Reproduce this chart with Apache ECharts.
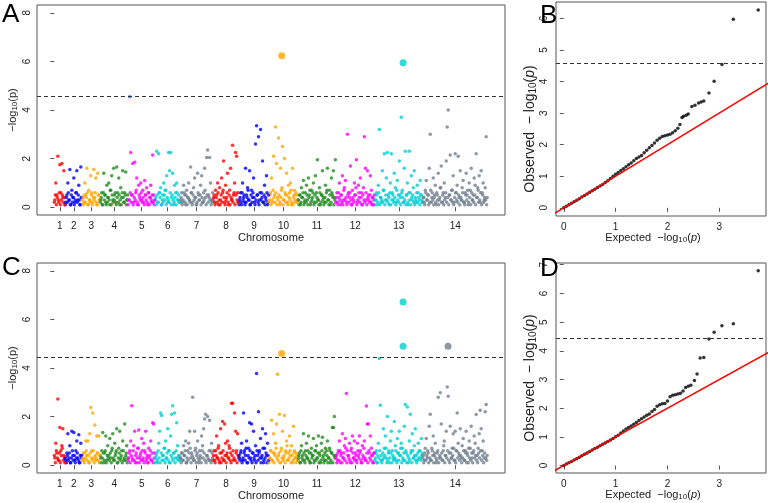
<!DOCTYPE html>
<html>
<head>
<meta charset="utf-8">
<script src="https://cdn.jsdelivr.net/npm/echarts@6/dist/echarts.min.js"></script>
<style>
html, body { margin: 0; padding: 0; background: #fff; }
#main { width: 768px; height: 503px; }
</style>
</head>
<body>
<div id="main"></div>
<script>
// chromosomes (relative lengths) and colours
const chromNames = ['1', '2', '3', '4', '5', '6', '7', '8', '9', '10', '11', '12', '13', '14'];
const chromLen = [11, 17, 18, 28, 27, 25, 33, 26, 30, 29, 38, 39, 48, 65];
const chromColors = ['#FF0000', '#0000FF', '#FFA500', '#228B22', '#FF00FF', '#00CED1', '#708090'];

// panel A: -log10(p) per chromosome, in position order
const manhA = [
  [0.3, 1.0, 0.5, 2.1, 0.2, 1.75, 0.6, 1.8, 0.4, 1.5, 0.1],
  [0.2, 0.5, 1.0, 0.3, 1.55, 0.1, 0.7, 0.4, 1.2, 0.2, 0.6, 1.5, 0.3, 0.9, 0.1, 1.65, 0.4],
  [0.4, 0.2, 1.0, 0.5, 1.6, 0.1, 0.7, 0.3, 1.3, 0.6, 0.2, 1.55, 0.4, 1.2, 0.1, 1.4, 0.5, 0.3],
  [0.3, 0.6, 0.1, 1.4, 0.5, 0.2, 0.9, 0.4, 1.0, 0.1, 0.7, 1.3, 0.3, 1.6, 0.5, 0.2, 1.65, 0.6, 1.2, 0.1, 0.8, 0.4, 1.5, 0.2, 0.6, 1.45, 0.3, 0.5],
  [0.3, 4.55, 2.25, 0.5, 1.8, 0.2, 1.85, 0.6, 1.2, 0.1, 0.9, 0.4, 1.0, 0.3, 0.7, 0.2, 1.1, 0.5, 0.8, 0.1, 0.6, 0.4, 0.9, 0.2, 2.15, 0.5, 0.3],
  [0.4, 2.3, 0.2, 2.2, 0.6, 0.8, 0.1, 0.5, 1.0, 0.3, 0.7, 1.3, 0.2, 2.25, 1.5, 2.25, 0.4, 1.4, 0.1, 0.9, 0.6, 1.0, 0.3, 0.5, 0.2],
  [0.3, 0.6, 0.2, 0.9, 0.5, 0.1, 0.7, 0.4, 1.0, 0.3, 1.65, 0.6, 0.2, 0.8, 1.2, 0.4, 0.1, 1.4, 0.5, 0.3, 0.9, 1.3, 0.2, 0.6, 1.6, 0.4, 2.05, 2.35, 0.5, 2.05, 1.0, 0.3, 0.6],
  [0.4, 0.2, 0.7, 0.5, 1.0, 0.1, 0.8, 0.3, 1.2, 0.6, 1.9, 0.2, 0.9, 0.4, 1.4, 0.1, 0.7, 1.6, 0.3, 2.55, 0.5, 1.0, 2.25, 2.1, 0.6, 0.2],
  [0.3, 0.6, 0.1, 1.0, 0.4, 0.2, 1.6, 0.5, 0.8, 0.3, 1.5, 0.1, 0.7, 0.4, 1.2, 0.2, 2.6, 3.35, 0.5, 2.9, 0.3, 3.2, 0.6, 1.9, 0.2, 0.9, 0.4, 1.3, 0.1, 0.5],
  [0.3, 0.6, 1.2, 0.2, 2.1, 0.5, 3.3, 1.8, 0.4, 2.85, 0.1, 1.6, 0.7, 2.5, 0.3, 2.0, 0.5, 1.4, 0.2, 0.9, 0.6, 1.0, 0.1, 1.6, 0.4, 0.7, 0.2, 0.5, 0.3],
  [0.3, 0.5, 0.1, 0.8, 0.4, 1.1, 0.2, 0.6, 0.9, 0.3, 1.2, 0.5, 0.1, 0.7, 0.4, 1.0, 0.2, 1.3, 0.6, 1.95, 0.3, 0.8, 0.1, 0.5, 1.5, 0.4, 0.2, 0.9, 0.6, 1.6, 0.3, 0.7, 0.1, 1.2, 0.5, 1.5, 0.4, 1.95],
  [0.4, 0.2, 0.6, 1.0, 0.1, 0.5, 1.3, 0.3, 0.8, 1.1, 0.2, 3.0, 0.6, 0.4, 1.7, 0.1, 0.7, 0.3, 1.0, 0.5, 1.95, 0.2, 0.9, 0.4, 1.2, 0.6, 0.1, 0.8, 2.9, 1.6, 0.3, 1.5, 0.5, 0.2, 1.3, 0.7, 0.4, 0.1, 0.5],
  [0.3, 0.6, 0.1, 0.9, 3.2, 0.4, 0.2, 1.5, 0.7, 2.2, 0.3, 1.2, 2.25, 0.5, 0.1, 1.0, 2.2, 0.6, 0.3, 1.4, 0.8, 0.2, 1.1, 0.5, 1.9, 0.4, 3.7, 0.7, 0.2, 1.6, 2.3, 0.5, 1.0, 0.1, 2.3, 0.6, 1.3, 0.3, 0.8, 1.5, 0.4, 0.2, 0.9, 0.6, 0.3, 1.1, 0.5, 0.2],
  [0.4, 0.2, 0.7, 1.1, 0.3, 0.5, 1.6, 3.0, 0.2, 0.6, 1.2, 0.4, 0.9, 0.1, 0.5, 1.4, 0.3, 0.8, 1.7, 0.2, 0.6, 1.0, 0.4, 1.9, 3.3, 4.0, 0.5, 2.15, 0.3, 0.7, 1.3, 0.2, 2.2, 0.6, 0.9, 2.1, 0.4, 1.5, 0.3, 0.8, 1.1, 0.2, 0.6, 1.4, 0.5, 0.1, 1.0, 0.7, 1.6, 0.3, 0.5, 1.2, 0.9, 2.2, 0.4, 0.7, 1.3, 0.2, 1.5, 0.6, 1.0, 0.3, 0.8, 2.9, 0.4]
];
// panel A: the dense band of non-significant SNPs
const lowA = [
  [0.2, 0.5, 0.1, 0.4, 0.3, 0.6, 0.1, 0.3, 0.5, 0.2, 0.4],
  [0.1, 0.4, 0.2, 0.6, 0.3, 0.1, 0.5, 0.2, 0.4, 0.1, 0.3, 0.6, 0.2, 0.5, 0.3, 0.1, 0.4],
  [0.3, 0.1, 0.5, 0.2, 0.4, 0.6, 0.1, 0.3, 0.2, 0.5, 0.1, 0.4, 0.3, 0.6, 0.2, 0.1, 0.5, 0.3],
  [0.2, 0.4, 0.1, 0.6, 0.3, 0.5, 0.1, 0.2, 0.4, 0.3, 0.7, 0.1, 0.5, 0.2, 0.3, 0.6, 0.1, 0.4, 0.2, 0.5, 0.3, 0.1, 0.6, 0.4, 0.2, 0.5, 0.1, 0.3],
  [0.1, 0.3, 0.6, 0.2, 0.5, 0.1, 0.4, 0.3, 0.7, 0.2, 0.1, 0.5, 0.3, 0.6, 0.2, 0.4, 0.1, 0.5, 0.3, 0.2, 0.6, 0.1, 0.4, 0.3, 0.5, 0.2, 0.1],
  [0.3, 0.1, 0.5, 0.2, 0.6, 0.4, 0.1, 0.3, 0.2, 0.5, 0.7, 0.1, 0.4, 0.3, 0.2, 0.6, 0.1, 0.5, 0.3, 0.2, 0.4, 0.1, 0.6, 0.3, 0.2],
  [0.2, 0.4, 0.1, 0.3, 0.6, 0.2, 0.5, 0.1, 0.4, 0.3, 0.2, 0.6, 0.1, 0.5, 0.3, 0.4, 0.1, 0.2, 0.6, 0.3, 0.5, 0.1, 0.4, 0.2, 0.3, 0.7, 0.1, 0.5, 0.2, 0.4, 0.3, 0.1, 0.2],
  [0.3, 0.5, 0.1, 0.4, 0.2, 0.6, 0.3, 0.1, 0.5, 0.2, 0.7, 0.4, 0.1, 0.3, 0.6, 0.2, 0.5, 0.1, 0.4, 0.3, 0.2, 0.6, 0.1, 0.5, 0.3, 0.2],
  [0.1, 0.4, 0.2, 0.6, 0.3, 0.5, 0.1, 0.2, 0.4, 0.7, 0.3, 0.1, 0.5, 0.2, 0.6, 0.4, 0.1, 0.3, 0.5, 0.2, 0.1, 0.6, 0.3, 0.4, 0.2, 0.5, 0.1, 0.3, 0.6, 0.2],
  [0.2, 0.5, 0.1, 0.3, 0.7, 0.4, 0.2, 0.6, 0.1, 0.3, 0.5, 0.2, 0.4, 0.8, 0.1, 0.3, 0.6, 0.2, 0.5, 0.1, 0.4, 0.3, 0.7, 0.2, 0.1, 0.5, 0.3, 0.6, 0.2],
  [0.3, 0.1, 0.5, 0.2, 0.4, 0.6, 0.1, 0.3, 0.2, 0.5, 0.1, 0.4, 0.7, 0.2, 0.3, 0.6, 0.1, 0.5, 0.2, 0.4, 0.3, 0.1, 0.6, 0.2, 0.5, 0.3, 0.1, 0.4, 0.2, 0.7, 0.3, 0.1, 0.5, 0.2, 0.6, 0.4, 0.1, 0.3],
  [0.2, 0.6, 0.1, 0.4, 0.3, 0.5, 0.2, 0.1, 0.7, 0.3, 0.4, 0.1, 0.5, 0.2, 0.6, 0.3, 0.1, 0.4, 0.2, 0.5, 0.8, 0.1, 0.3, 0.6, 0.2, 0.4, 0.1, 0.5, 0.3, 0.2, 0.6, 0.1, 0.4, 0.3, 0.5, 0.2, 0.1, 0.4, 0.3],
  [0.1, 0.3, 0.5, 0.2, 0.6, 0.1, 0.4, 0.3, 0.2, 0.7, 0.1, 0.5, 0.3, 0.2, 0.4, 0.6, 0.1, 0.3, 0.5, 0.2, 0.4, 0.1, 0.7, 0.3, 0.2, 0.5, 0.1, 0.6, 0.4, 0.2, 0.3, 0.1, 0.5, 0.2, 0.6, 0.3, 0.1, 0.4, 0.5, 0.2, 0.1, 0.3, 0.6, 0.2, 0.4, 0.1, 0.5, 0.3],
  [0.2, 0.4, 0.1, 0.6, 0.3, 0.5, 0.1, 0.2, 0.7, 0.4, 0.3, 0.1, 0.5, 0.2, 0.6, 0.3, 0.1, 0.4, 0.8, 0.2, 0.5, 0.1, 0.3, 0.6, 0.2, 0.4, 0.1, 0.5, 0.3, 0.7, 0.2, 0.1, 0.4, 0.6, 0.3, 0.2, 0.5, 0.1, 0.4, 0.3, 0.6, 0.2, 0.1, 0.5, 0.3, 0.7, 0.2, 0.4, 0.1, 0.6, 0.3, 0.2, 0.5, 0.1, 0.4, 0.8, 0.2, 0.3, 0.6, 0.1, 0.5, 0.2, 0.4, 0.3, 0.1]
];
// panel A significant SNPs: [chromosome, offset in chromosome, -log10(p)]
const sigA = [[10, 12.7, 6.23], [13, 28.3, 5.94]];
const thrA = 4.56;

// panel C
const manhC = [
  [0.3, 0.9, 0.5, 2.72, 0.2, 1.55, 0.6, 0.8, 1.5, 0.4, 0.1],
  [0.2, 0.5, 1.3, 0.3, 0.8, 0.1, 1.4, 0.4, 1.35, 0.2, 0.6, 1.0, 0.3, 1.25, 0.1, 0.9, 0.4],
  [0.3, 0.2, 0.5, 1.0, 0.4, 1.0, 0.1, 1.3, 2.37, 0.6, 2.15, 0.3, 1.65, 0.2, 1.2, 0.5, 1.2, 0.4],
  [0.3, 0.6, 1.35, 0.1, 0.5, 1.2, 0.2, 0.8, 0.4, 1.1, 0.3, 0.6, 1.3, 0.2, 0.9, 0.5, 1.5, 0.1, 0.7, 1.4, 0.3, 0.6, 1.0, 0.2, 1.7, 0.4, 0.8, 0.3],
  [0.3, 0.6, 1.0, 2.45, 0.2, 0.8, 1.4, 0.4, 0.1, 0.7, 1.45, 0.3, 0.5, 1.1, 0.2, 0.9, 0.6, 1.4, 0.3, 0.1, 0.7, 0.4, 1.0, 0.2, 1.75, 1.7, 0.5],
  [0.3, 0.5, 0.1, 0.9, 1.4, 2.15, 2.05, 0.4, 0.2, 0.7, 1.0, 0.3, 1.5, 0.6, 0.1, 1.2, 2.1, 2.45, 0.5, 2.15, 0.3, 1.75, 0.8, 0.4, 0.2],
  [0.3, 0.5, 0.2, 0.8, 0.4, 1.0, 0.1, 0.6, 0.9, 1.4, 0.3, 0.5, 2.8, 0.2, 1.4, 0.7, 0.4, 1.0, 0.1, 0.6, 0.3, 1.2, 0.8, 1.5, 1.9, 2.1, 0.4, 2.0, 0.2, 1.85, 0.6, 0.9, 0.3],
  [0.4, 0.2, 0.6, 1.2, 0.3, 0.8, 0.1, 1.5, 0.5, 1.8, 0.2, 1.7, 0.9, 0.4, 1.0, 0.3, 0.7, 0.5, 2.55, 2.55, 0.2, 2.15, 1.4, 0.6, 1.3, 0.3],
  [0.3, 0.5, 0.9, 0.2, 2.15, 0.6, 0.4, 1.0, 0.1, 0.7, 1.75, 0.3, 1.7, 0.5, 1.4, 0.2, 0.8, 3.77, 0.4, 2.2, 0.6, 1.1, 0.3, 1.5, 0.1, 0.7, 1.3, 0.4, 0.9, 0.2],
  [0.3, 0.6, 1.85, 0.2, 1.3, 0.5, 0.9, 1.7, 3.74, 0.4, 2.1, 0.1, 0.7, 1.4, 0.3, 2.05, 0.6, 1.0, 0.2, 0.5, 1.2, 0.4, 0.8, 0.1, 1.6, 0.6, 0.3, 0.5, 0.2],
  [0.3, 0.5, 0.1, 0.8, 0.4, 1.3, 0.2, 0.6, 0.9, 0.3, 1.2, 0.5, 0.1, 0.7, 0.4, 1.1, 0.2, 0.6, 0.8, 0.3, 1.2, 0.5, 0.1, 0.9, 1.15, 0.4, 0.2, 0.7, 0.6, 1.0, 0.3, 0.7, 0.1, 0.5, 1.55, 1.55, 2.0, 0.4],
  [0.4, 0.2, 0.6, 1.0, 0.1, 0.5, 1.3, 0.3, 0.8, 1.1, 2.95, 0.6, 0.4, 0.9, 0.1, 0.7, 1.2, 0.3, 1.0, 0.5, 0.2, 0.9, 0.4, 1.2, 0.6, 0.1, 0.8, 0.3, 1.0, 0.2, 2.44, 1.7, 1.7, 0.5, 1.2, 0.7, 0.4, 0.1, 0.5],
  [0.3, 0.6, 0.1, 0.9, 4.39, 2.47, 0.4, 0.2, 1.5, 0.7, 1.2, 0.3, 2.0, 0.5, 0.1, 1.0, 1.4, 0.6, 0.3, 1.8, 0.8, 0.2, 1.1, 0.5, 1.4, 0.4, 0.9, 0.7, 0.2, 1.6, 2.5, 0.5, 2.4, 0.1, 1.0, 2.1, 0.6, 1.3, 0.3, 0.8, 1.5, 0.4, 0.2, 0.9, 0.6, 0.3, 1.1, 0.5],
  [0.4, 0.2, 0.7, 1.1, 0.3, 0.5, 1.6, 2.1, 0.2, 0.6, 1.2, 0.4, 0.9, 0.1, 0.5, 2.8, 0.3, 2.98, 1.7, 0.2, 0.6, 1.0, 0.4, 1.4, 3.22, 2.84, 0.5, 1.6, 0.3, 0.7, 1.3, 0.2, 1.4, 0.6, 2.15, 0.9, 0.4, 1.5, 0.3, 0.8, 1.1, 0.2, 0.6, 1.4, 0.5, 0.1, 1.0, 0.7, 1.6, 0.3, 0.5, 1.2, 0.9, 2.09, 0.4, 0.7, 1.3, 2.26, 1.5, 0.6, 1.0, 0.3, 2.2, 2.5, 0.4]
];
const lowC = [
  [0.4, 0.1, 0.6, 0.3, 0.2, 0.5, 0.1, 0.4, 0.7, 0.2, 0.3],
  [0.3, 0.1, 0.4, 0.2, 0.5, 0.1, 0.3, 0.6, 0.2, 0.4, 0.1, 0.3, 0.5, 0.2, 0.1, 0.4, 0.3],
  [0.2, 0.5, 0.1, 0.3, 0.6, 0.2, 0.4, 0.1, 0.5, 0.3, 0.2, 0.6, 0.1, 0.4, 0.3, 0.5, 0.2, 0.1],
  [0.4, 0.1, 0.3, 0.5, 0.2, 0.6, 0.1, 0.4, 0.3, 0.2, 0.5, 0.1, 0.7, 0.3, 0.2, 0.4, 0.6, 0.1, 0.3, 0.5, 0.2, 0.4, 0.1, 0.6, 0.3, 0.2, 0.5, 0.1],
  [0.2, 0.5, 0.1, 0.4, 0.3, 0.6, 0.2, 0.1, 0.5, 0.3, 0.7, 0.1, 0.4, 0.2, 0.6, 0.3, 0.1, 0.5, 0.2, 0.4, 0.1, 0.3, 0.6, 0.2, 0.5, 0.1, 0.3],
  [0.1, 0.4, 0.2, 0.6, 0.3, 0.1, 0.5, 0.2, 0.4, 0.7, 0.1, 0.3, 0.5, 0.2, 0.6, 0.1, 0.4, 0.3, 0.2, 0.5, 0.1, 0.6, 0.3, 0.2, 0.4],
  [0.3, 0.1, 0.5, 0.2, 0.4, 0.6, 0.1, 0.3, 0.2, 0.5, 0.7, 0.1, 0.4, 0.3, 0.2, 0.6, 0.1, 0.5, 0.3, 0.2, 0.4, 0.1, 0.6, 0.3, 0.5, 0.2, 0.1, 0.4, 0.3, 0.6, 0.2, 0.1, 0.5],
  [0.2, 0.6, 0.1, 0.4, 0.3, 0.7, 0.2, 0.5, 0.1, 0.3, 0.6, 0.2, 0.4, 0.1, 0.5, 0.3, 0.8, 0.2, 0.1, 0.4, 0.6, 0.3, 0.2, 0.5, 0.1, 0.4],
  [0.4, 0.2, 0.6, 0.1, 0.3, 0.5, 0.2, 0.7, 0.1, 0.4, 0.3, 0.6, 0.2, 0.1, 0.5, 0.3, 0.4, 0.1, 0.6, 0.2, 0.5, 0.3, 0.1, 0.4, 0.7, 0.2, 0.3, 0.5, 0.1, 0.4],
  [0.1, 0.3, 0.6, 0.2, 0.5, 0.1, 0.4, 0.7, 0.3, 0.2, 0.5, 0.1, 0.6, 0.3, 0.2, 0.4, 0.1, 0.5, 0.8, 0.2, 0.3, 0.6, 0.1, 0.4, 0.2, 0.5, 0.3, 0.1, 0.4],
  [0.2, 0.4, 0.1, 0.6, 0.3, 0.2, 0.5, 0.1, 0.4, 0.3, 0.6, 0.2, 0.1, 0.5, 0.3, 0.4, 0.1, 0.6, 0.2, 0.3, 0.5, 0.1, 0.4, 0.2, 0.6, 0.3, 0.1, 0.5, 0.2, 0.4, 0.1, 0.3, 0.6, 0.2, 0.5, 0.1, 0.4, 0.3],
  [0.3, 0.1, 0.5, 0.2, 0.6, 0.4, 0.1, 0.3, 0.5, 0.2, 0.7, 0.1, 0.4, 0.3, 0.2, 0.6, 0.1, 0.5, 0.3, 0.2, 0.4, 0.1, 0.6, 0.3, 0.5, 0.2, 0.1, 0.4, 0.7, 0.3, 0.2, 0.5, 0.1, 0.6, 0.3, 0.2, 0.4, 0.1, 0.5],
  [0.2, 0.5, 0.1, 0.4, 0.3, 0.6, 0.2, 0.1, 0.5, 0.3, 0.4, 0.7, 0.1, 0.2, 0.6, 0.3, 0.5, 0.1, 0.4, 0.2, 0.3, 0.6, 0.1, 0.5, 0.2, 0.4, 0.7, 0.1, 0.3, 0.5, 0.2, 0.6, 0.1, 0.4, 0.3, 0.2, 0.5, 0.1, 0.6, 0.3, 0.4, 0.2, 0.1, 0.5, 0.3, 0.6, 0.2, 0.4],
  [0.3, 0.1, 0.5, 0.2, 0.4, 0.6, 0.1, 0.3, 0.2, 0.7, 0.4, 0.1, 0.5, 0.3, 0.2, 0.6, 0.1, 0.4, 0.3, 0.5, 0.2, 0.8, 0.1, 0.4, 0.3, 0.6, 0.2, 0.1, 0.5, 0.3, 0.4, 0.7, 0.2, 0.1, 0.6, 0.3, 0.5, 0.2, 0.4, 0.1, 0.3, 0.6, 0.2, 0.5, 0.1, 0.4, 0.7, 0.3, 0.2, 0.5, 0.1, 0.6, 0.3, 0.4, 0.2, 0.1, 0.5, 0.3, 0.6, 0.2, 0.4, 0.1, 0.5, 0.3, 0.2]
];
const sigC = [[10, 12.7, 4.6], [13, 28.3, 6.72], [13, 28.3, 4.9], [14, 25.3, 4.9]];
const thrC = 4.45;

// QQ plot B: expected vs observed -log10(p)
const qqExpB = [0, 0.05, 0.1, 0.15, 0.2, 0.25, 0.3, 0.35, 0.4, 0.45, 0.5, 0.55, 0.6, 0.65, 0.7, 0.75, 0.8, 0.85, 0.9, 0.95, 1.0, 1.05, 1.1, 1.15, 1.2, 1.25, 1.3, 1.35, 1.4, 1.45, 1.5, 1.55, 1.6, 1.65, 1.7, 1.75, 1.8, 1.85, 1.9, 1.95, 2.0, 2.05, 2.1, 2.15, 2.2, 2.24,
  2.28, 2.31, 2.36, 2.4, 2.47, 2.53, 2.6, 2.65, 2.7, 2.8, 2.9, 3.05, 3.27, 3.75];
const qqObsB = [0, 0.05, 0.1, 0.14, 0.19, 0.24, 0.29, 0.34, 0.39, 0.44, 0.49, 0.54, 0.59, 0.64, 0.69, 0.74, 0.8, 0.86, 0.93, 1.0, 1.06, 1.12, 1.18, 1.24, 1.3, 1.36, 1.42, 1.49, 1.56, 1.61, 1.66, 1.74, 1.82, 1.9, 1.97, 2.05, 2.14, 2.2, 2.26, 2.28, 2.31, 2.33, 2.38, 2.44, 2.52, 2.64,
  2.86, 2.9, 2.93, 2.97, 3.21, 3.25, 3.32, 3.35, 3.38, 3.64, 4.01, 4.54, 5.97, 6.27];
const thrB = 4.57;

// QQ plot D
const qqExpD = [0, 0.05, 0.1, 0.15, 0.2, 0.25, 0.3, 0.35, 0.4, 0.45, 0.5, 0.55, 0.6, 0.65, 0.7, 0.75, 0.8, 0.85, 0.9, 0.95, 1.0, 1.05, 1.1, 1.15, 1.2, 1.25, 1.3, 1.35, 1.4, 1.45, 1.5, 1.55, 1.6, 1.65, 1.7, 1.75, 1.8, 1.85, 1.9, 1.95, 2.0, 2.05, 2.1, 2.15, 2.2, 2.25, 2.3, 2.35, 2.4, 2.45,
  2.52, 2.57, 2.63, 2.7, 2.8, 2.9, 3.05, 3.27, 3.75];
const qqObsD = [0, 0.05, 0.1, 0.14, 0.19, 0.24, 0.29, 0.34, 0.39, 0.44, 0.49, 0.54, 0.59, 0.64, 0.69, 0.74, 0.79, 0.84, 0.89, 0.94, 1.0, 1.06, 1.13, 1.2, 1.27, 1.33, 1.38, 1.44, 1.5, 1.57, 1.63, 1.69, 1.75, 1.8, 1.88, 1.95, 2.07, 2.12, 2.15, 2.16, 2.25, 2.4, 2.45, 2.47, 2.49, 2.52, 2.6, 2.72, 2.76, 2.8,
  2.96, 3.19, 3.75, 3.77, 4.41, 4.65, 4.87, 4.94, 6.79];
const thrD = 4.45;
// expected = observed reference line
const qqLine = [[-1, -1], [8, 8]];

const FONT = 'Liberation Sans, Arial, Helvetica, sans-serif';
const BOX = '#555';

const chromStart = [];
chromLen.reduce((acc, l) => { chromStart.push(acc); return acc + l; }, 0);
const totalLen = chromLen.reduce((a, b) => a + b, 0);
const chromMid = chromStart.map((s, i) => s + chromLen[i] / 2);
const xPad = totalLen * 0.04;

function chromLabel(v) {
  const i = chromMid.findIndex(m => Math.abs(m - v) < 0.01);
  return i >= 0 ? chromNames[i] : '';
}

// one scatter per chromosome: low band first, then the rest
function manhSeries(vals, low, sig, thr, gi) {
  const out = [];
  low.forEach((arr, c) => out.push({
    type: 'scatter',
    xAxisIndex: gi, yAxisIndex: gi,
    symbolSize: 3.5,
    itemStyle: { color: chromColors[c % 7] },
    data: arr.map((v, i) => [chromStart[c] + i * chromLen[c] / arr.length, v])
  }));
  vals.forEach((arr, c) => out.push({
    type: 'scatter',
    xAxisIndex: gi, yAxisIndex: gi,
    symbolSize: 3.5,
    itemStyle: { color: chromColors[c % 7] },
    data: arr.map((v, i) => [chromStart[c] + (i + 0.5) * chromLen[c] / arr.length, v])
  }));
  out.push({
    type: 'scatter',
    xAxisIndex: gi, yAxisIndex: gi,
    symbolSize: 7,
    z: 5,
    data: sig.map(s => ({
      value: [chromStart[s[0] - 1] + s[1], s[2]],
      itemStyle: { color: chromColors[(s[0] - 1) % 7] }
    })),
    markLine: {
      silent: true, symbol: 'none', label: { show: false },
      lineStyle: { type: [4, 3], color: '#333', width: 1 },
      data: [{ yAxis: thr }]
    }
  });
  return out;
}

function qqSeries(ex, ob, thr, gi) {
  return [{
    type: 'scatter',
    xAxisIndex: gi, yAxisIndex: gi,
    symbolSize: 3.5,
    itemStyle: { color: '#000' },
    data: ex.map((e, i) => [e, ob[i]]),
    markLine: {
      silent: true, symbol: 'none', label: { show: false },
      lineStyle: { type: [4, 3], color: '#333', width: 1 },
      data: [{ yAxis: thr }]
    }
  }, {
    type: 'line',
    xAxisIndex: gi, yAxisIndex: gi,
    symbol: 'none',
    z: 4,
    lineStyle: { color: '#FF0000', width: 1.5 },
    data: qqLine
  }];
}

const tickStyle = { show: true, length: 4, lineStyle: { color: BOX } };
const labStyle = { fontSize: 10, color: '#222', fontFamily: FONT };
function rich(size) {
  return {
    s: { fontSize: Math.round(size * 0.72), fontFamily: FONT, color: '#222', verticalAlign: 'bottom', padding: [5, 0, 0, 0] },
    i: { fontSize: size, fontFamily: FONT, color: '#222', fontStyle: 'italic' }
  };
}

function manhX(gi) {
  return {
    gridIndex: gi, type: 'value', min: -xPad, max: totalLen + xPad,
    axisLine: { show: false }, splitLine: { show: false },
    axisTick: Object.assign({ customValues: chromMid }, tickStyle),
    axisLabel: Object.assign({ customValues: chromMid, formatter: chromLabel, margin: 6 }, labStyle),
    name: 'Chromosome', nameLocation: 'middle', nameGap: 17, nameMoveOverlap: false,
    nameTextStyle: { fontSize: 11, color: '#222', fontFamily: FONT }
  };
}
function manhY(gi) {
  return {
    gridIndex: gi, type: 'value', min: -0.32, max: 8.32,
    axisLine: { show: false }, splitLine: { show: false },
    axisTick: Object.assign({ customValues: [0, 2, 4, 6, 8] }, tickStyle),
    axisLabel: Object.assign({ customValues: [0, 2, 4, 6, 8], rotate: 90, margin: 5 }, labStyle),
    name: '−log{s|10}(p)', nameLocation: 'middle', nameGap: 18, nameMoveOverlap: false,
    nameTextStyle: { fontSize: 11, color: '#222', fontFamily: FONT, rich: rich(11) }
  };
}
function qqX(gi) {
  return {
    gridIndex: gi, type: 'value', min: -0.15, max: 3.9,
    axisLine: { show: false }, splitLine: { show: false },
    axisTick: Object.assign({ customValues: [0, 1, 2, 3] }, tickStyle),
    axisLabel: Object.assign({ customValues: [0, 1, 2, 3], margin: 6 }, labStyle),
    name: 'Expected  −log{s|10}({i|p})', nameLocation: 'middle', nameGap: 15, nameMoveOverlap: false,
    nameTextStyle: { fontSize: 11, color: '#222', fontFamily: FONT, rich: rich(11), padding: [0, 16, 0, 0] }
  };
}
function qqY(gi, max, ticks, shift) {
  return {
    gridIndex: gi, type: 'value', min: -0.26, max: max,
    axisLine: { show: false }, splitLine: { show: false },
    axisTick: Object.assign({ customValues: ticks }, tickStyle),
    axisLabel: Object.assign({ customValues: ticks, rotate: 90, margin: 7 }, labStyle),
    name: 'Observed  − log{s|10}({i|p})', nameLocation: 'middle', nameGap: 18, nameMoveOverlap: false,
    nameTextStyle: { fontSize: 14, color: '#222', fontFamily: FONT, rich: rich(14), padding: [0, shift, 0, 0] }
  };
}

const gridBase = { show: true, borderColor: BOX, borderWidth: 1, backgroundColor: 'transparent', containLabel: false, outerBoundsMode: 'none' };
const letter = (t, l, tp) => ({ text: t, left: l, top: tp, padding: 0, textStyle: { fontSize: 26, fontWeight: 'normal', color: '#000', fontFamily: FONT } });

const chart = echarts.init(document.getElementById('main'));
chart.setOption({
  animation: false,
  backgroundColor: '#fff',
  title: [letter('A', 2, 2), letter('B', 540, 3), letter('C', 2, 255), letter('D', 540, 256)],
  grid: [
    Object.assign({ left: 37, top: 5, width: 468, height: 210 }, gridBase),
    Object.assign({ left: 556, top: 2, width: 210, height: 214 }, gridBase),
    Object.assign({ left: 37, top: 263, width: 468, height: 210 }, gridBase),
    Object.assign({ left: 556, top: 263, width: 210, height: 210 }, gridBase)
  ],
  xAxis: [manhX(0), qqX(1), manhX(2), qqX(3)],
  yAxis: [manhY(0), qqY(1, 6.52, [0, 1, 2, 3, 4, 5, 6], 40), manhY(2), qqY(3, 7.06, [0, 1, 2, 3, 4, 5, 6, 7], 20)],
  series: [].concat(
    manhSeries(manhA, lowA, sigA, thrA, 0),
    qqSeries(qqExpB, qqObsB, thrB, 1),
    manhSeries(manhC, lowC, sigC, thrC, 2),
    qqSeries(qqExpD, qqObsD, thrD, 3)
  )
});
</script>
</body>
</html>
